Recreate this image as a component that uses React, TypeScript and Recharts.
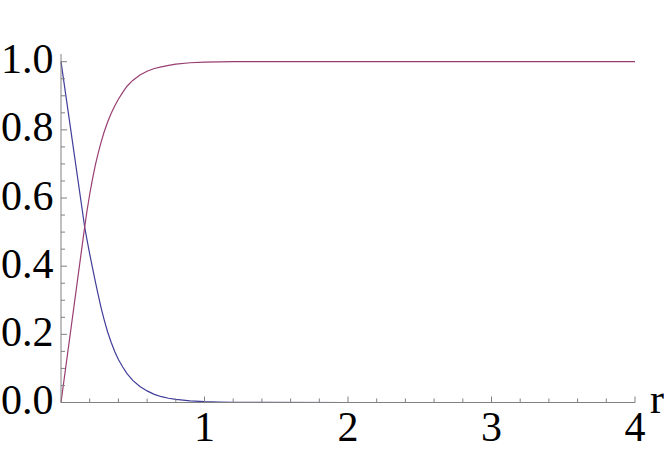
import React from 'react';
import { LineChart, Line, XAxis, YAxis } from 'recharts';

const rValues = [0, 0.165, 0.18, 0.2, 0.22, 0.24, 0.26, 0.28, 0.3, 0.325, 0.35, 0.375, 0.4, 0.43, 0.46, 0.5, 0.55, 0.6, 0.65, 0.7, 0.75, 0.8, 0.9, 1.0, 1.1, 1.2, 1.4, 2, 3, 4];
const blueValues = [1, 0.515, 0.48, 0.436, 0.394, 0.353, 0.314, 0.277, 0.244, 0.207, 0.176, 0.149, 0.126, 0.104, 0.085, 0.065, 0.047, 0.034, 0.024, 0.017, 0.0125, 0.009, 0.0047, 0.0024, 0.0012, 0.0006, 0.0002, 0, 0, 0];
const purpleValues = [0, 0.515, 0.559, 0.611, 0.657, 0.698, 0.733, 0.765, 0.793, 0.823, 0.849, 0.871, 0.89, 0.91, 0.928, 0.945, 0.961, 0.972, 0.98, 0.985, 0.989, 0.993, 0.997, 0.999, 0.9995, 1, 1, 1, 1, 1];

const xMajorTicks = [1, 2, 3, 4];
const xTicks = [0.2, 0.4, 0.6, 0.8, 1, 1.2, 1.4, 1.6, 1.8, 2, 2.2, 2.4, 2.6, 2.8, 3, 3.2, 3.4, 3.6, 3.8, 4];
const yMajorTicks = [0, 0.2, 0.4, 0.6, 0.8, 1.0];
const yMajorLabels = ['0.0', '0.2', '0.4', '0.6', '0.8', '1.0'];
const yTicks = [0, 0.05, 0.1, 0.15, 0.2, 0.25, 0.3, 0.35, 0.4, 0.45, 0.5, 0.55, 0.6, 0.65, 0.7, 0.75, 0.8, 0.85, 0.9, 0.95, 1.0];

const data = rValues.map((r, i) => ({ r, blue: blueValues[i], purple: purpleValues[i] }));

const AXIS = '#808080';
const textStyle = { fontFamily: 'Liberation Serif', fontSize: 42 };

const findMajor = (list: number[], v: number) => list.findIndex((m) => Math.abs(m - v) < 1e-6);

const XTick = (props: any) => {
  const { x, y, payload } = props;
  const idx = findMajor(xMajorTicks, payload.value);
  const major = idx >= 0;
  return (
    <g>
      <line x1={x} x2={x} y1={y} y2={y - (major ? 6 : 4)} stroke={AXIS} strokeWidth={1} />
      {major && (
        <text x={x} y={y + 38} textAnchor="middle" style={textStyle} fill="#000">
          {String(xMajorTicks[idx])}
        </text>
      )}
    </g>
  );
};

const YTick = (props: any) => {
  const { x, y, payload } = props;
  const idx = findMajor(yMajorTicks, payload.value);
  const major = idx >= 0;
  return (
    <g>
      <line x1={x} x2={x + (major ? 6 : 4)} y1={y} y2={y} stroke={AXIS} strokeWidth={1} />
      {major && (
        <text x={x - 7.5} y={y + 11.5} textAnchor="end" style={textStyle} fill="#000">
          {yMajorLabels[idx]}
        </text>
      )}
    </g>
  );
};

const RLabel = (props: any) => {
  const vb = props.viewBox || {};
  return (
    <text x={vb.x + vb.width + 15} y={vb.y + 10} style={textStyle} fill="#000">
      r
    </text>
  );
};

export default function App() {
  return (
    <div style={{ position: 'absolute', left: 0, top: 0 }}>
      <LineChart
        width={664}
        height={452}
        data={data}
        margin={{ top: 54, right: 29, bottom: 0, left: 0 }}
      >
        <XAxis
          dataKey="r"
          type="number"
          domain={[0, 4]}
          ticks={xTicks}
          interval={0}
          height={49.5}
          tickSize={0}
          tickMargin={0}
          tickLine={false}
          axisLine={{ stroke: AXIS, strokeWidth: 1 }}
          tick={<XTick />}
          label={<RLabel />}
        />
        <YAxis
          type="number"
          domain={[0, 1.0226]}
          ticks={yTicks}
          interval={0}
          width={61}
          tickSize={0}
          tickMargin={0}
          tickLine={false}
          axisLine={{ stroke: AXIS, strokeWidth: 1 }}
          tick={<YTick />}
        />
        <Line type="linear" dataKey="blue" stroke="#3f3d99" strokeWidth={1.2} dot={false} isAnimationActive={false} />
        <Line type="linear" dataKey="purple" stroke="#993d71" strokeWidth={1.2} dot={false} isAnimationActive={false} />
      </LineChart>
    </div>
  );
}
